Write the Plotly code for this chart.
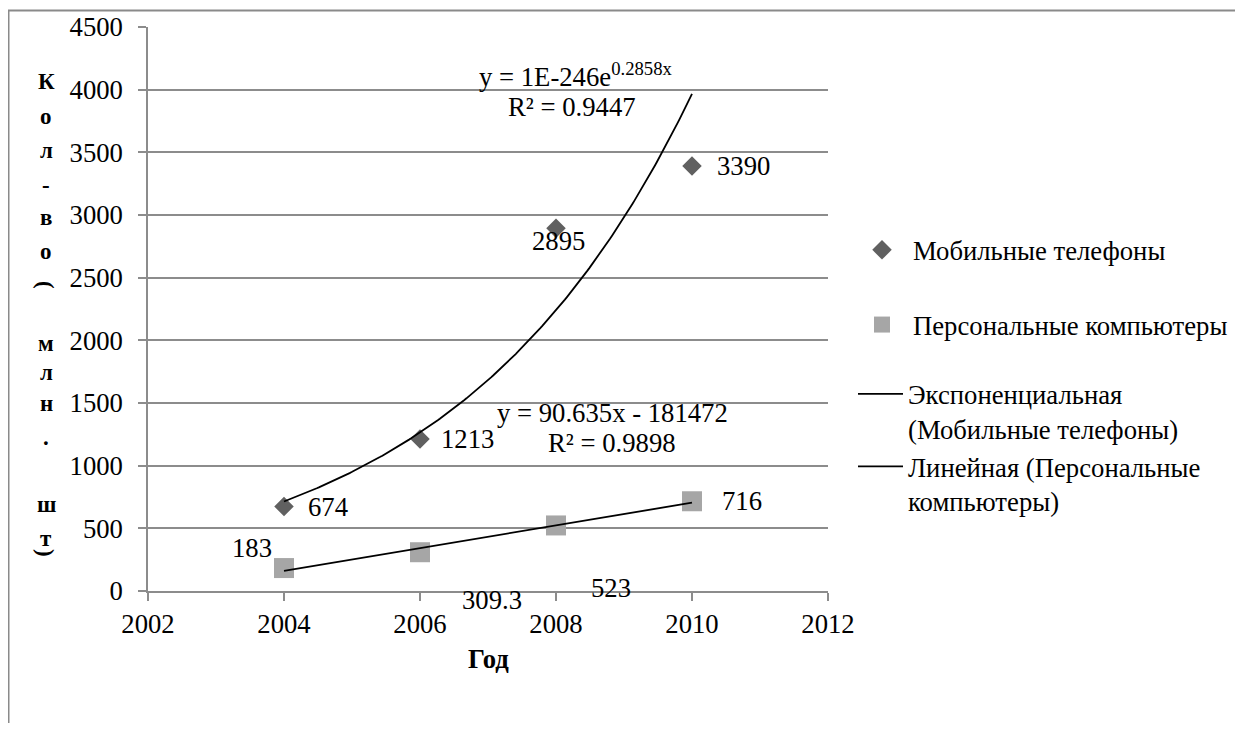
import numpy as np
import plotly.graph_objects as go

# ---- data ----
years = [2004, 2006, 2008, 2010]
mobile = [674, 1213, 2895, 3390]
pcs = [183, 309.3, 523, 716]
mobile_labels = ["674", "1213", "2895", "3390"]
pc_labels = ["183", "309.3", "523", "716"]
series_names = ["Мобильные телефоны", "Персональные компьютеры"]
trend_names = ["Экспоненциальная<br>(Мобильные телефоны)", "Линейная (Персональные<br>компьютеры)"]
exp_eq = ["y = 1E-246e<sup>0.2858x</sup>", "R² = 0.9447"]
lin_eq = ["y = 90.635x - 181472", "R² = 0.9898"]
x_ticks = [2002, 2004, 2006, 2008, 2010, 2012]
y_ticks = [0, 500, 1000, 1500, 2000, 2500, 3000, 3500, 4000, 4500]
x_title = "Год"
y_title = "Кол-во (млн. шт)"

FONT = "Liberation Serif"
GRID = "#8c8c8c"
FS = 26.7


def f(size):
    return dict(family=FONT, size=size, color="black")


# screen geometry (page body has an 8px margin)
OFF = 8
W, H = 1243 - 2 * OFF, 731 - 2 * OFF
PL, PR, PT, PB = 148, 828, 27, 591   # plot area in screen pixels


def px(sx):
    return (sx - PL) / (PR - PL)


def py(sy):
    return (PB - sy) / (PB - PT)


# trend fits derived from the data
b, a = np.polyfit(years, np.log(mobile), 1)
xs = np.linspace(years[0], years[-1], 200)
exp_fit = np.exp(a + b * xs)
m, c = np.polyfit(years, pcs, 1)
lin_x = [years[0], years[-1]]
lin_fit = [m * v + c for v in lin_x]

fig = go.Figure()
fig.add_trace(go.Scatter(x=years, y=mobile, mode="markers", name=series_names[0],
                         marker=dict(symbol="diamond", size=15, color="#606060"),
                         legend="legend", legendgroup="a"))
fig.add_trace(go.Scatter(x=years, y=pcs, mode="markers", name=series_names[1],
                         marker=dict(symbol="square", size=20, color="#a6a6a6"),
                         legend="legend", legendgroup="b"))
fig.add_trace(go.Scatter(x=xs, y=exp_fit, mode="lines", name=trend_names[0],
                         line=dict(color="black", width=1.8),
                         legend="legend2", legendgroup="c"))
fig.add_trace(go.Scatter(x=lin_x, y=lin_fit, mode="lines", name=trend_names[1],
                         line=dict(color="black", width=1.8),
                         legend="legend2", legendgroup="d"))

ann = []
# data labels
m_shift = [(44, 0), (47, 0), (2, -13), (51, 0)]
p_shift = [(-32, 20), (72, -48), (55, -63), (50, 0)]
for xv, yv, t, (dx, dy) in zip(years, mobile, mobile_labels, m_shift):
    ann.append(dict(x=xv, y=yv, text=t, xref="x", yref="y", showarrow=False,
                    xanchor="center", yanchor="middle",
                    xshift=dx, yshift=dy, font=f(FS)))
for xv, yv, t, (dx, dy) in zip(years, pcs, pc_labels, p_shift):
    ann.append(dict(x=xv, y=yv, text=t, xref="x", yref="y", showarrow=False,
                    xanchor="center", yanchor="middle",
                    xshift=dx, yshift=dy, font=f(FS)))


def pann(sx, sy, text, size, bold=False, angle=0, xa="center", ya="middle"):
    return dict(x=px(sx), y=py(sy), xref="paper", yref="paper",
                text=("<b>" + text + "</b>") if bold else text, showarrow=False,
                xanchor=xa, yanchor=ya, textangle=angle, font=f(size))


# equations
ann.append(pann(477, 94, exp_eq[0], FS, xa="left", ya="bottom"))
ann.append(pann(572, 107, exp_eq[1], FS))
ann.append(pann(612, 413, lin_eq[0], FS))
ann.append(pann(612, 443, lin_eq[1], FS))

# x title
ann.append(pann(488, 659, x_title, FS, bold=True))

# vertical y title, one character per line
ypix = [82, 117, 150, 185, 218, 251, None, 285, 343, 373, 403, 437, None, 505, 538, 553]
for ch, sy in zip(list(y_title), ypix):
    if ch == " " or sy is None:
        continue
    ann.append(pann(46, sy, ch, 23, bold=True, angle=90 if ch in "()" else 0))

fig.update_layout(
    width=W, height=H,
    margin=dict(l=PL - OFF, r=W - (PR - OFF), t=PT - OFF, b=H - (PB - OFF), autoexpand=False),
    paper_bgcolor="white", plot_bgcolor="white",
    font=f(FS),
    annotations=ann,
    shapes=[dict(type="rect", xref="paper", yref="paper",
                 x0=px(8.5), x1=px(1260), y0=py(760), y1=py(10.5),
                 line=dict(color="#8a8a8a", width=2), layer="below")],
    legend=dict(x=px(851), y=py(226), xanchor="left", yanchor="top",
                tracegroupgap=37, traceorder="grouped", valign="top", itemwidth=52,
                font=f(FS), bgcolor="rgba(0,0,0,0)"),
    legend2=dict(x=px(853), y=py(370), xanchor="left", yanchor="top",
                 tracegroupgap=0, traceorder="grouped", valign="top", itemwidth=45,
                 font=f(FS), bgcolor="rgba(0,0,0,0)"),
    xaxis=dict(range=[2002, 2012], tickvals=x_ticks, ticktext=[str(v) for v in x_ticks],
               showgrid=False, zeroline=False, showline=True, linecolor=GRID, linewidth=1.5,
               ticks="outside", ticklen=8, tickcolor=GRID, tickwidth=1.5,
               tickfont=f(FS), automargin=False),
    yaxis=dict(range=[0, 4500], tickvals=y_ticks, ticktext=[str(v) for v in y_ticks],
               showgrid=True, gridcolor=GRID, gridwidth=1.5, zeroline=False,
               showline=True, linecolor=GRID, linewidth=1.5,
               ticks="outside", ticklen=8, tickcolor=GRID, tickwidth=1.5,
               ticklabelstandoff=10, tickfont=f(FS), automargin=False),
)

fig.write_html("out.html")
